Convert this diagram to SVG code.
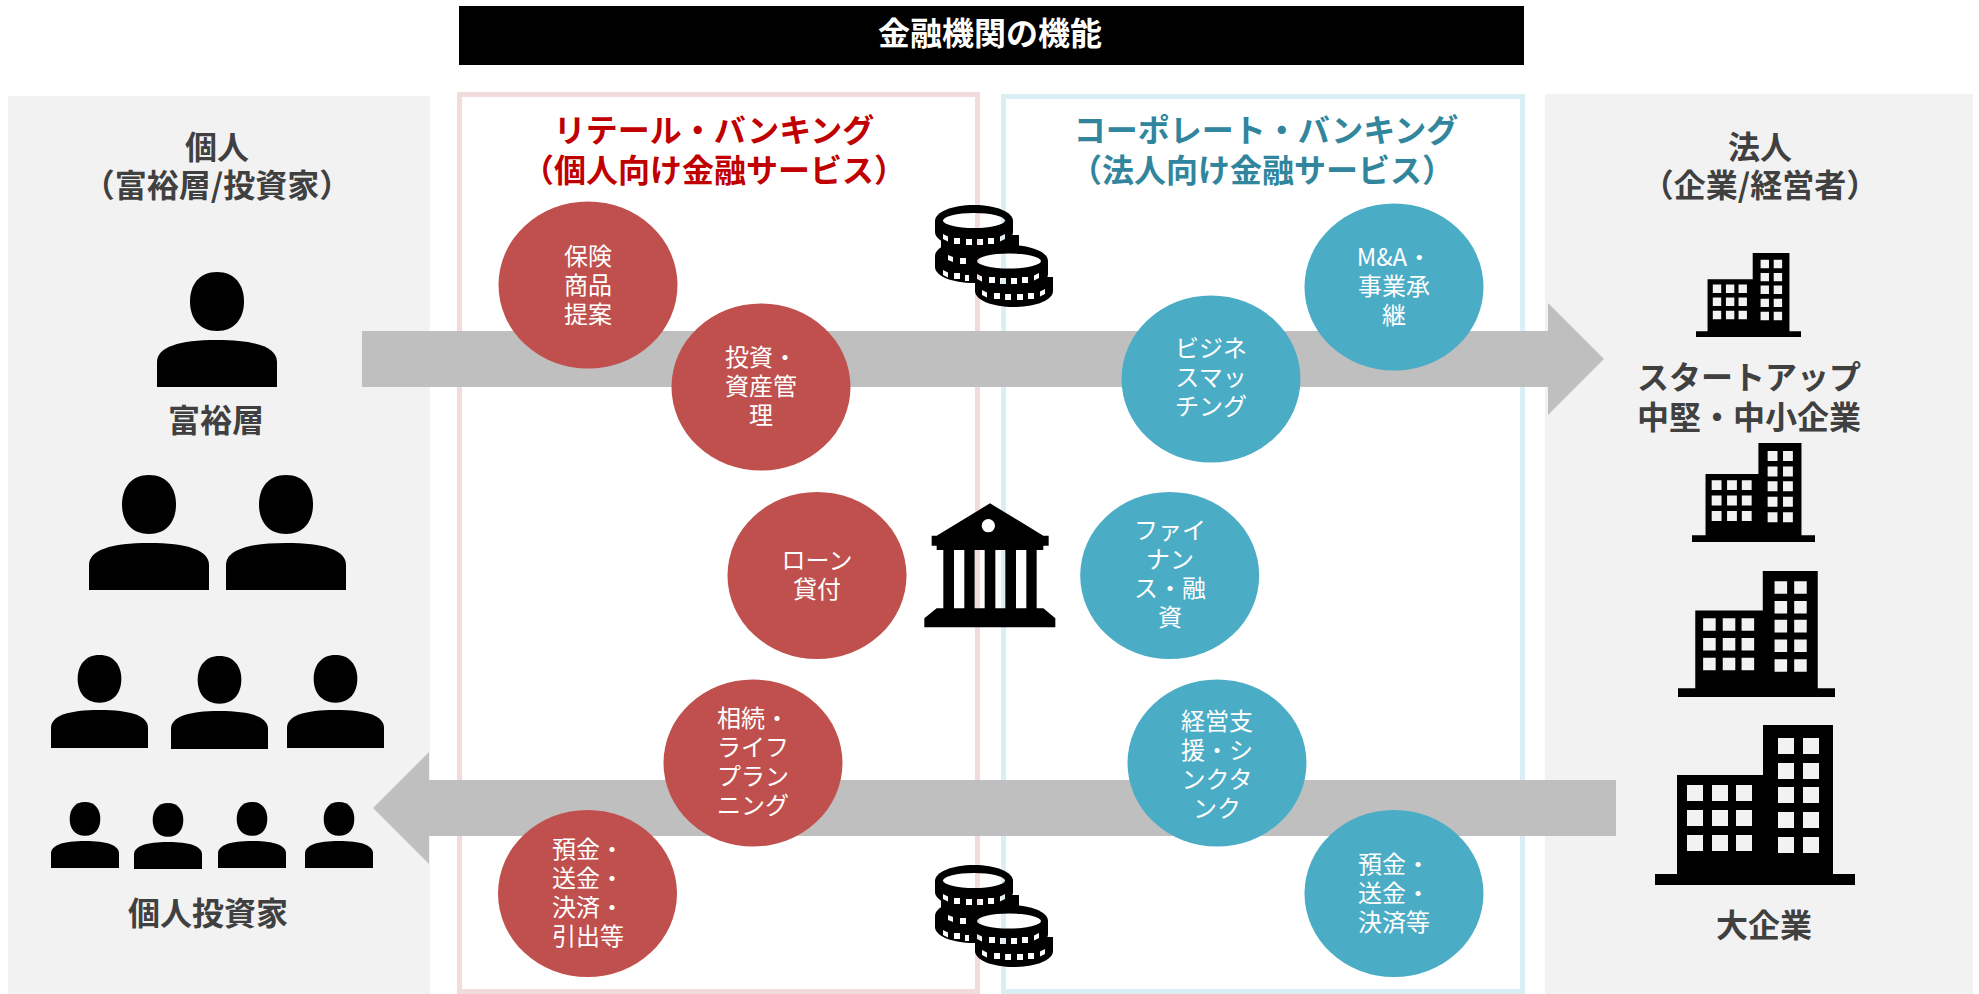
<svg xmlns="http://www.w3.org/2000/svg" xmlns:xlink="http://www.w3.org/1999/xlink" width="1979" height="994" viewBox="0 0 1979 994">
<style>
text{font-family:"Noto Sans CJK JP","Noto Sans",sans-serif;text-anchor:middle}
.h{font-size:32px;font-weight:700;fill:#404040}
.c{font-size:24px;font-weight:400;fill:#fff}
.r{fill:#c0504d}
.b{fill:#4bacc6}
.panel{fill:#f2f2f2}
.arrow{fill:#bfbfbf}
</style>
<defs>
<symbol id="person" viewBox="0 0 120 115" preserveAspectRatio="none">
<path d="M60 0C78 0 87 13 87 29.500C87 46 78 59 60 59C42 59 33 46 33 29.500C33 13 42 0 60 0Z"/>
<path d="M0 115V90C0 75 22 68 60 68C98 68 120 75 120 90V115Z"/>
</symbol>
<symbol id="building" viewBox="0 0 200 160" preserveAspectRatio="none">
<path fill-rule="evenodd" d="M0 149H22V50H108V0H178V149H200V160H0Z
M32 60h16v16h-16z M57 60h16v16h-16z M81 60h16v16h-16z
M32 85h16v16h-16z M57 85h16v16h-16z M81 85h16v16h-16z
M32 110h16v16h-16z M57 110h16v16h-16z M81 110h16v16h-16z
M123 13h16v16h-16z M148 13h16v16h-16z
M123 38h16v16h-16z M148 38h16v16h-16z
M123 62h16v16h-16z M148 62h16v16h-16z
M123 87h16v16h-16z M148 87h16v16h-16z
M123 112h16v16h-16z M148 112h16v16h-16z"/>
</symbol>
<mask id="coinHoles" maskUnits="userSpaceOnUse" x="-5" y="-5" width="130" height="115">
<rect x="-5" y="-5" width="130" height="115" fill="#fff"/>
<g fill="#000">
<ellipse cx="39" cy="15.500" rx="31" ry="7.500"/>
<ellipse cx="74" cy="56" rx="32" ry="7.500"/>
<path d="M8 29l5 2.500v5l-5-2.500z M19 33h6v6h-6z M31 34h6v6h-6z M42 34h6v6h-6z M53 33h6v6h-6z M65 31.500l5-2.500v5l-5 2.500z"/>
<path d="M13 50l5 2v5l-5-2z M25 53h6v6h-6z"/>
<path d="M8 65l5 2.500v5l-5-2.500z M19 68h6v6h-6z M30 70h4v6h-4z"/>
<path d="M42 69l5 2.500v5l-5-2.500z M54 72h6v6h-6z M65 73h6v6h-6z M76 73h6v6h-6z M87 72h6v6h-6z M99 70.500l5-2.500v5l-5 2.500z"/>
<path d="M47 85l5 2.500v5l-5-2.500z M59 88h6v6h-6z M70 89h6v6h-6z M82 89h6v6h-6z M93 88h6v6h-6z M105 86.500l5-2.500v5l-5 2.500z"/>
</g>
</mask>
<g id="coins" mask="url(#coinHoles)">
<path d="M0 51C0 42 17 35 39 35S78 42 78 51V62C78 71 61 78 39 78S0 71 0 62Z"/>
<path d="M6 30H84V43C84 52 67 59 45 59S6 52 6 43Z"/>
<path d="M0 16C0 7 17 0 39 0S78 7 78 16V27C78 36 61 43 39 43S0 36 0 27Z"/>
<path d="M40 72H118V86C118 95 101 102 79 102S40 95 40 86Z"/>
<path d="M35 56C35 47 52 40 74 40S113 47 113 56V69C113 78 96 85 74 85S35 78 35 69Z"/>
</g>
</defs>
<rect width="1979" height="994" fill="#fff"/>

<g id="panel-individual">
<rect class="panel" x="8" y="96" width="422" height="898"/>
<text class="h" x="217" y="159">個人</text>
<text class="h" x="217" y="197">（富裕層/投資家）</text>
</g>
<g id="panel-corporate">
<rect class="panel" x="1545" y="94" width="428" height="900"/>
<text class="h" x="1760" y="159">法人</text>
<text class="h" x="1760" y="197">（企業/経営者）</text>
</g>
<g id="title">
<rect x="459" y="6" width="1065" height="59" fill="#000"/>
<text x="990" y="45" font-size="32" font-weight="700" fill="#fff">金融機関の機能</text>
</g>
<g id="retail-frame">
<rect x="459.500" y="94.500" width="518" height="897" fill="#fff" stroke="#f2dcdb" stroke-width="5"/>
<text x="714" y="142" font-size="32" font-weight="700" fill="#c00000">リテール・バンキング</text>
<text x="714" y="182" font-size="32" font-weight="700" fill="#c00000">（個人向け金融サービス）</text>
</g>
<g id="corporate-frame">
<rect x="1003.500" y="96.500" width="519" height="895" fill="#fff" stroke="#dbeef4" stroke-width="5"/>
<text x="1266" y="142" font-size="32" font-weight="700" fill="#31859c">コーポレート・バンキング</text>
<text x="1262" y="182" font-size="32" font-weight="700" fill="#31859c">（法人向け金融サービス）</text>
</g>

<g id="connectors">
<path class="arrow" d="M362 331H1548V303L1604 359L1548 415V387H362Z"/>
<path class="arrow" d="M1616 780H429V752L373 808L429 864V836H1616Z"/>
</g>

<g id="icon-coins-top"><use href="#coins" xlink:href="#coins" transform="translate(935 205)"/></g>
<g id="icon-coins-bottom"><use href="#coins" xlink:href="#coins" transform="translate(935 865)"/></g>
<g id="icon-bank"><path transform="translate(900 490) scale(.33333)" fill-rule="evenodd" d="M270 40L430 137H446V167H430V180H410V355H430L466 385V412H73V385L110 355H130V180H110V167H95V137H110Z M285 107A20 20 0 1 1 245 107A20 20 0 1 1 285 107Z M162 180H193V355H162Z M224 180H254V355H224Z M286 180H316V355H286Z M348 180H379V355H348Z"/></g>

<g id="people-wealthy">
<use href="#person" xlink:href="#person" x="157" y="272" width="120" height="115"/>
<text class="h" x="216" y="432">富裕層</text>
</g>
<g id="people-row2">
<use href="#person" xlink:href="#person" x="89" y="475" width="120" height="115"/>
<use href="#person" xlink:href="#person" x="226" y="475" width="120" height="115"/>
</g>
<g id="people-row3">
<use href="#person" xlink:href="#person" x="51" y="655" width="97" height="93"/>
<use href="#person" xlink:href="#person" x="171" y="656" width="97" height="93"/>
<use href="#person" xlink:href="#person" x="287" y="655" width="97" height="93"/>
</g>
<g id="people-row4">
<use href="#person" xlink:href="#person" x="51" y="802" width="68" height="66"/>
<use href="#person" xlink:href="#person" x="134" y="803" width="68" height="66"/>
<use href="#person" xlink:href="#person" x="218" y="802" width="68" height="66"/>
<use href="#person" xlink:href="#person" x="305" y="802" width="68" height="66"/>
<text class="h" x="208" y="925">個人投資家</text>
</g>

<g id="buildings-startup">
<use href="#building" xlink:href="#building" x="1696" y="253" width="105" height="84"/>
<text class="h" x="1749" y="389">スタートアップ</text>
<text class="h" x="1749" y="429">中堅・中小企業</text>
</g>
<g id="building-mid1"><use href="#building" xlink:href="#building" x="1692" y="443" width="123" height="99"/></g>
<g id="building-mid2"><use href="#building" xlink:href="#building" x="1678" y="571" width="157" height="126"/></g>
<g id="buildings-large">
<use href="#building" xlink:href="#building" x="1655" y="725" width="200" height="160"/>
<text class="h" x="1764" y="937">大企業</text>
</g>

<g id="r-insurance"><ellipse class="r" cx="588" cy="285" rx="89.500" ry="83.500"/>
<text class="c" x="588" y="265">保険</text><text class="c" x="588" y="294">商品</text><text class="c" x="588" y="323">提案</text></g>
<g id="r-invest"><ellipse class="r" cx="761" cy="387" rx="89.500" ry="83.500"/>
<text class="c" x="761" y="366">投資・</text><text class="c" x="761" y="395">資産管</text><text class="c" x="761" y="424">理</text></g>
<g id="r-loan"><ellipse class="r" cx="817" cy="575.500" rx="89.500" ry="83.500"/>
<text class="c" x="817" y="569">ローン</text><text class="c" x="817" y="598">貸付</text></g>
<g id="r-life"><ellipse class="r" cx="753" cy="763" rx="89.500" ry="83.500"/>
<text class="c" x="753" y="727">相続・</text><text class="c" x="753" y="756">ライフ</text><text class="c" x="753" y="785">プラン</text><text class="c" x="753" y="814">ニング</text></g>
<g id="r-deposit"><ellipse class="r" cx="587.500" cy="893.500" rx="89.500" ry="83.500"/>
<text class="c" x="588" y="858">預金・</text><text class="c" x="588" y="887">送金・</text><text class="c" x="588" y="916">決済・</text><text class="c" x="588" y="945">引出等</text></g>

<g id="b-ma"><ellipse class="b" cx="1394" cy="287" rx="89.500" ry="83.500"/>
<text class="c" x="1394" y="266">M&amp;A・</text><text class="c" x="1394" y="295">事業承</text><text class="c" x="1394" y="324">継</text></g>
<g id="b-matching"><ellipse class="b" cx="1211" cy="379" rx="89.500" ry="83.500"/>
<text class="c" x="1211" y="357">ビジネ</text><text class="c" x="1211" y="386">スマッ</text><text class="c" x="1211" y="415">チング</text></g>
<g id="b-finance"><ellipse class="b" cx="1169.700" cy="575.500" rx="89.500" ry="83.500"/>
<text class="c" x="1170" y="539">ファイ</text><text class="c" x="1170" y="568">ナン</text><text class="c" x="1170" y="597">ス・融</text><text class="c" x="1170" y="626">資</text></g>
<g id="b-support"><ellipse class="b" cx="1217" cy="763" rx="89.500" ry="83.500"/>
<text class="c" x="1217" y="730">経営支</text><text class="c" x="1217" y="759">援・シ</text><text class="c" x="1217" y="788">ンクタ</text><text class="c" x="1217" y="817">ンク</text></g>
<g id="b-deposit"><ellipse class="b" cx="1394" cy="893.500" rx="89.500" ry="83.500"/>
<text class="c" x="1394" y="873">預金・</text><text class="c" x="1394" y="902">送金・</text><text class="c" x="1394" y="931">決済等</text></g>
</svg>
